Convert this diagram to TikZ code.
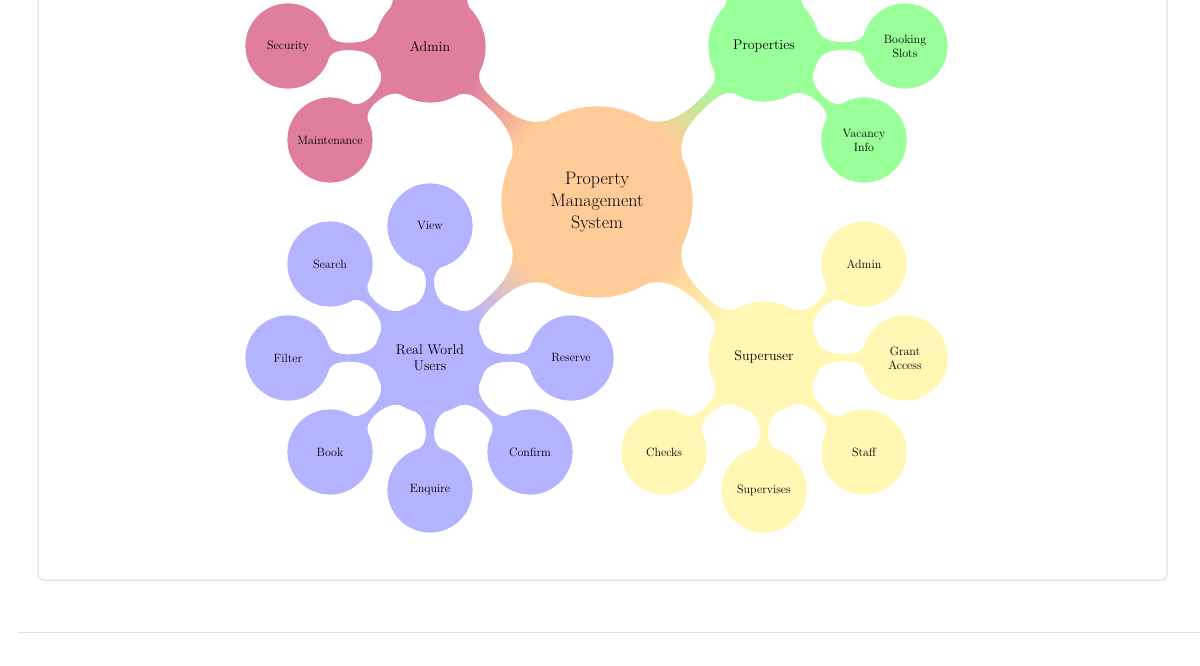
\documentclass[tikz,border=0pt]{standalone}
\usetikzlibrary{mindmap}
\definecolor{cpink}{RGB}{223,127,155}
\definecolor{cgreen}{RGB}{153,255,153}
\definecolor{corange}{RGB}{255,204,153}
\definecolor{cblue}{RGB}{179,179,255}
\definecolor{cyellow}{RGB}{255,247,179}
\begin{document}
\begin{tikzpicture}[x=1pt,y=-1pt,mindmap,
  root/.style={concept,circle,minimum size=190pt,text width=150pt,font=\fontsize{18}{22}\selectfont,align=center,inner sep=0pt},
  mid/.style={concept,circle,minimum size=110pt,text width=95pt,font=\fontsize{14}{16}\selectfont,align=center,inner sep=0pt},
  leaf/.style={concept,circle,minimum size=84pt,text width=80pt,font=\fontsize{12}{14}\selectfont,align=center,inner sep=0pt},
  bar/.style={circle connection bar switch color=from (#1) to (#1)}]
\useasboundingbox (0,0) rectangle (1200,665);
\clip (0,0) rectangle (1200,665);
\draw[black!15,line width=1pt,rounded corners=6pt] (38,-20) rectangle (1167,580);
\draw[black!12,line width=1pt] (18,632) -- (1200,632);

\node[root,concept color=corange] (c) at (597,202) {Property\\Management\\System};
\node[mid,concept color=cpink] (ad) at (430,47) {Admin};
\node[mid,concept color=cgreen] (pr) at (764,46) {Properties};
\node[mid,concept color=cblue] (rw) at (430,358) {Real World\\Users};
\node[mid,concept color=cyellow] (su) at (764,357) {Superuser};

\node[leaf,concept color=cpink] (sec) at (288,46) {Security};
\node[leaf,concept color=cpink] (mai) at (330,140) {Maintenance};
\node[leaf,concept color=cpink] (ad1) at (359,-76) {};
\node[leaf,concept color=cpink] (ad2) at (501,-76) {};

\node[leaf,concept color=cgreen] (bs) at (905,46) {Booking\\Slots};
\node[leaf,concept color=cgreen] (vi) at (864,140) {Vacancy\\Info};
\node[leaf,concept color=cgreen] (pr1) at (693,-77) {};
\node[leaf,concept color=cgreen] (pr2) at (835,-77) {};

\node[leaf,concept color=cblue] (vw) at (430,226) {View};
\node[leaf,concept color=cblue] (se) at (330,264) {Search};
\node[leaf,concept color=cblue] (fi) at (288,358) {Filter};
\node[leaf,concept color=cblue] (bo) at (330,452) {Book};
\node[leaf,concept color=cblue] (en) at (430,490) {Enquire};
\node[leaf,concept color=cblue] (co) at (530,452) {Confirm};
\node[leaf,concept color=cblue] (re) at (571,358) {Reserve};

\node[leaf,concept color=cyellow] (a2) at (864,264) {Admin};
\node[leaf,concept color=cyellow] (ga) at (905,358) {Grant\\Access};
\node[leaf,concept color=cyellow] (st) at (864,452) {Staff};
\node[leaf,concept color=cyellow] (sv) at (764,490) {Supervises};
\node[leaf,concept color=cyellow] (ch) at (664,452) {Checks};

\path (c) to[circle connection bar switch color=from (corange) to (cpink)] (ad);
\path (c) to[circle connection bar switch color=from (corange) to (cgreen)] (pr);
\path (c) to[circle connection bar switch color=from (corange) to (cblue)] (rw);
\path (c) to[circle connection bar switch color=from (corange) to (cyellow)] (su);
\foreach \a in {sec,mai,ad1,ad2} \path (ad) to[bar=cpink] (\a);
\foreach \a in {bs,vi,pr1,pr2} \path (pr) to[bar=cgreen] (\a);
\foreach \a in {vw,se,fi,bo,en,co,re} \path (rw) to[bar=cblue] (\a);
\foreach \a in {a2,ga,st,sv,ch} \path (su) to[bar=cyellow] (\a);
\end{tikzpicture}
\end{document}
